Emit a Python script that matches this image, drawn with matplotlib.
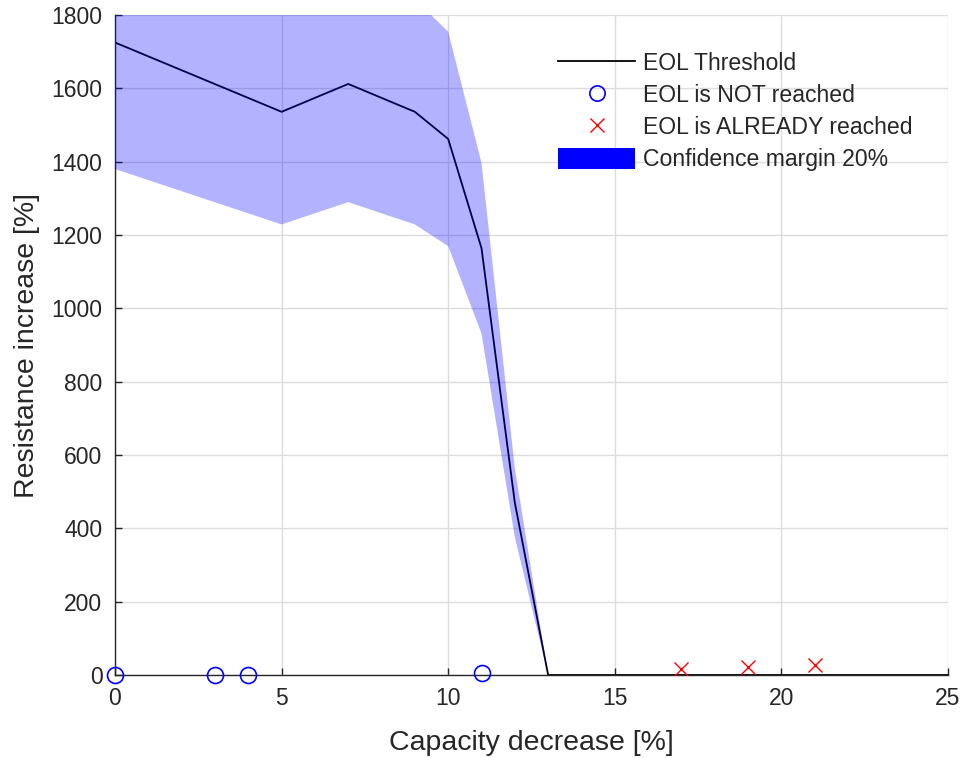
import numpy as np
import matplotlib.pyplot as plt
from matplotlib.lines import Line2D
from matplotlib.patches import Patch

plt.rcParams['font.family'] = ['Liberation Sans', 'DejaVu Sans']

# EOL threshold curve
cap_decrease = [0, 5, 7, 9, 10, 11, 12, 13, 25]
res_increase = [1725, 1536, 1612, 1536, 1462, 1164, 470, 0, 0]
margin = 0.20

# cells whose end of life is not reached yet
ok_cap = [0, 3, 4, 11]
ok_res = [0, 0, 0, 5]

# cells already past end of life
eol_cap = [17, 19, 21]
eol_res = [15, 21, 27]

dark = '#262626'

fig = plt.figure(figsize=(9.68, 7.58), dpi=100)
ax = fig.add_axes([0.1188, 0.1095, 0.8605, 0.8707])

res = np.array(res_increase, dtype=float)
ax.plot(cap_decrease, res, color='black', lw=1.3, zorder=2)
ax.fill_between(cap_decrease, res * (1 - margin), res * (1 + margin),
                facecolor='blue', alpha=0.3, edgecolor='none', zorder=3)
ax.plot(ok_cap, ok_res, 'o', mfc='none', mec='blue', ms=11.5, mew=1.2,
        zorder=4, clip_on=False)
ax.plot(eol_cap, eol_res, 'x', color='red', ms=10, mew=1.0, zorder=4)

ax.set_xlim(0, 25)
ax.set_ylim(0, 1800)
ax.set_xticks(np.arange(0, 26, 5))
ax.set_yticks(np.arange(0, 1801, 200))
ax.grid(True, color='#dcdcdc', lw=1.0)
ax.set_axisbelow(True)

for side in ['top', 'right']:
    ax.spines[side].set_visible(False)
for side in ['left', 'bottom']:
    ax.spines[side].set_color(dark)
    ax.spines[side].set_linewidth(1.0)

ax.tick_params(direction='in', length=5, width=1.0, colors=dark,
               labelsize=16.5, labelcolor=dark)
ax.tick_params(axis='x', pad=9)
ax.tick_params(axis='y', pad=9)

ax.set_xlabel('Capacity decrease [%]', fontsize=20.5, color=dark, labelpad=14)
ax.set_ylabel('Resistance increase [%]', fontsize=20.5, color=dark, labelpad=8)

handles = [
    Line2D([], [], color='black', lw=1.3),
    Line2D([], [], ls='none', marker='o', mfc='none', mec='blue', ms=11, mew=1.2),
    Line2D([], [], ls='none', marker='x', color='red', ms=10, mew=1.0),
    Patch(facecolor='blue', edgecolor='none'),
]
labels = ['EOL Threshold', 'EOL is NOT reached', 'EOL is ALREADY reached',
          'Confidence margin 20%']
leg = ax.legend(handles, labels, loc='upper right', bbox_to_anchor=(0.969, 0.959),
                frameon=False, fontsize=16.6, handlelength=3.34, handleheight=1.05,
                handletextpad=0.35, labelspacing=0.37, borderaxespad=0)
for t in leg.get_texts():
    t.set_color(dark)

fig.savefig('out.png', dpi=100)
